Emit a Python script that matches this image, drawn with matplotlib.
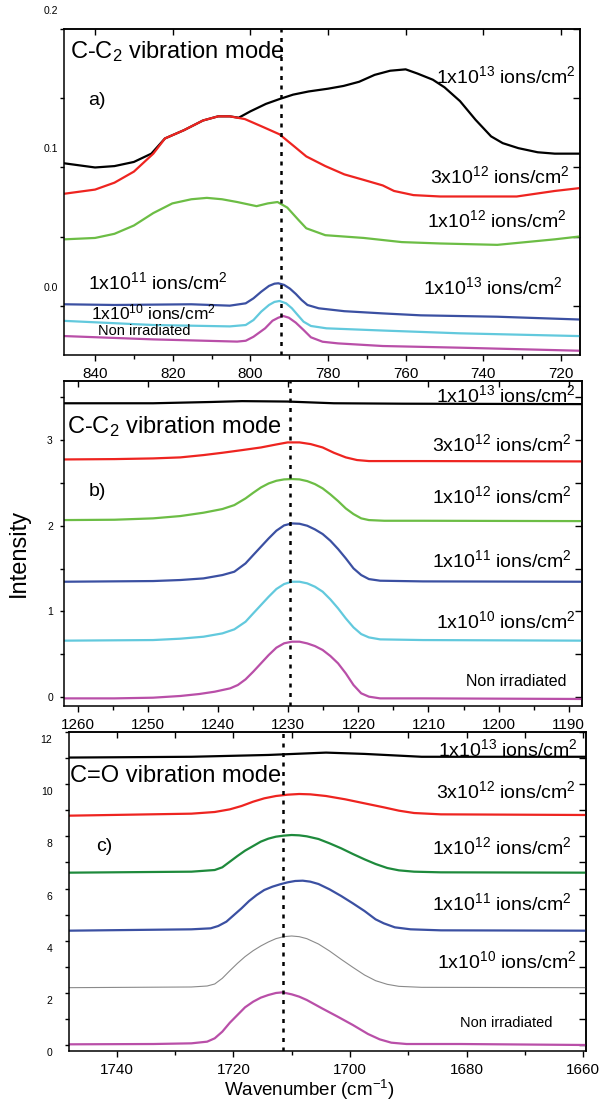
import matplotlib
matplotlib.use("Agg")
import matplotlib.pyplot as plt
from matplotlib.ticker import MultipleLocator, FixedLocator
from matplotlib.transforms import ScaledTranslation

plt.rcParams['font.family'] = ['Liberation Sans', 'DejaVu Sans']
plt.rcParams['mathtext.fontset'] = 'custom'
plt.rcParams['mathtext.rm'] = 'Liberation Sans'
plt.rcParams['mathtext.it'] = 'Liberation Sans:italic'
plt.rcParams['mathtext.default'] = 'regular'

# ---- panel a) C-C2 around 790 cm-1 ----
a_black_wn = [847.9, 840, 835, 830, 825.5, 822, 817.1, 812.2, 808.3, 805.3, 803, 800, 796,
              792.5, 789, 785, 780, 776, 772, 768, 764, 760, 757, 753, 750, 746, 742, 738,
              735, 731, 726, 721.6, 715.4]
a_black = [0.103, 0.100, 0.101, 0.104, 0.110, 0.121, 0.127, 0.134, 0.137, 0.137, 0.136, 0.1406,
           0.146, 0.1495, 0.1527, 0.155, 0.157, 0.159, 0.162, 0.167, 0.170, 0.171, 0.168, 0.1635,
           0.158, 0.148, 0.1345, 0.1225, 0.1176, 0.114, 0.111, 0.110, 0.110]
a_red_wn = [847.9, 840, 835, 830, 825, 822, 817.1, 812.2, 808.3, 805.3, 801.4, 796.5, 792.5,
            788.6, 785.6, 780.7, 775.8, 770.8, 765.9, 763, 758, 751.1, 741.3, 731.4, 721.6, 715.4]
a_red = [0.081, 0.084, 0.089, 0.097, 0.110, 0.121, 0.127, 0.134, 0.137, 0.137, 0.135, 0.129,
         0.124, 0.115, 0.108, 0.101, 0.095, 0.091, 0.087, 0.083, 0.080, 0.079, 0.079, 0.079,
         0.083, 0.085]
a_green_wn = [847.9, 840, 835, 830, 825, 820.1, 815.2, 811.2, 807.3, 803.4, 798.4, 795.5, 793,
              790.5, 787.6, 785.6, 780.7, 770.8, 761, 751.1, 736.4, 721.6, 715.4]
a_green = [0.048, 0.049, 0.052, 0.058, 0.067, 0.074, 0.077, 0.078, 0.077, 0.075, 0.072, 0.074,
           0.075, 0.071, 0.062, 0.056, 0.051, 0.049, 0.046, 0.045, 0.044, 0.048, 0.050]
a_blue_wn = [847.9, 835, 815.2, 805.3, 801.2, 799.2, 797.2, 795.2, 793.8, 792.8, 791.3, 789.8,
             788.3, 786.8, 785.3, 782.4, 775.8, 765.9, 756.1, 736.4, 715.4]
a_blue = [0.001, 0.0005, 0.001, 0.000, 0.0017, 0.0053, 0.0101, 0.0143, 0.0159, 0.0162, 0.0150,
          0.0123, 0.0085, 0.0041, 0.0005, -0.0019, -0.004, -0.0056, -0.007, -0.008, -0.010]
a_cyan_wn = [847.9, 825, 805.3, 801.2, 799.2, 797.2, 795.2, 793.8, 792.5, 790.8, 789.3, 787.8,
             786.3, 784.4, 780.4, 765.9, 746.2, 715.4]
a_cyan = [-0.011, -0.014, -0.015, -0.014, -0.0104, -0.0043, 0.0005, 0.0027, 0.0034, 0.0017,
          -0.0019, -0.0068, -0.0116, -0.0147, -0.0164, -0.018, -0.020, -0.022]
a_mag_wn = [847.9, 825, 803.4, 801.2, 799.2, 796.2, 794.3, 792.8, 791.5, 790.1, 788.3, 786.3,
            784.4, 781.4, 777.4, 765.9, 746.2, 715.4]
a_mag = [-0.022, -0.0244, -0.026, -0.0254, -0.0225, -0.0164, -0.0109, -0.0087, -0.0075, -0.0087,
         -0.0123, -0.0176, -0.0229, -0.0261, -0.0273, -0.0292, -0.0304, -0.0326]

# ---- panel b) C-C2 around 1230 cm-1 ----
b_black_wn = [1262.0, 1249.3, 1241.0, 1236.6, 1230.1, 1223.5, 1213.6, 1188.0]
b_black = [3.43, 3.43, 3.445, 3.455, 3.45, 3.43, 3.425, 3.42]
b_red_wn = [1262.0, 1254.8, 1249.3, 1245.4, 1242.1, 1239.4, 1236.6, 1233.9, 1231.7, 1230.1,
            1228.4, 1226.8, 1225.1, 1223.5, 1221.8, 1220.2, 1218.5, 1210.8, 1188.0]
b_red = [2.774, 2.778, 2.786, 2.798, 2.825, 2.852, 2.883, 2.914, 2.949, 2.973, 2.973, 2.953,
         2.914, 2.852, 2.798, 2.767, 2.755, 2.755, 2.751]
b_green_wn = [1262.0, 1254.8, 1249.3, 1245.4, 1242.1, 1239.4, 1237.7, 1236.1, 1235.0, 1233.9,
              1232.8, 1231.7, 1230.6, 1229.5, 1228.4, 1227.3, 1226.2, 1225.1, 1224.0, 1222.9,
              1221.8, 1220.7, 1219.6, 1218.5, 1216.3, 1210.8, 1188.0]
b_green = [2.066, 2.070, 2.086, 2.113, 2.152, 2.195, 2.241, 2.319, 2.385, 2.447, 2.494, 2.525,
           2.541, 2.545, 2.541, 2.521, 2.486, 2.436, 2.366, 2.288, 2.202, 2.136, 2.086, 2.066,
           2.058, 2.058, 2.054]
b_blue_wn = [1262.0, 1249.3, 1245.4, 1242.1, 1239.4, 1237.7, 1236.1, 1235.0, 1233.9, 1232.8,
             1231.7, 1230.6, 1229.5, 1228.4, 1227.3, 1226.2, 1225.1, 1224.0, 1222.9, 1221.8,
             1220.7, 1219.6, 1218.5, 1216.9, 1210.8, 1188.0]
b_blue = [1.346, 1.354, 1.366, 1.385, 1.424, 1.463, 1.560, 1.658, 1.755, 1.852, 1.942, 2.004,
          2.027, 2.023, 2.000, 1.957, 1.903, 1.825, 1.728, 1.619, 1.502, 1.424, 1.377, 1.358,
          1.350, 1.346]
b_cyan_wn = [1262.0, 1249.3, 1245.4, 1242.1, 1239.4, 1237.7, 1236.1, 1235.0, 1233.9, 1232.8,
             1231.7, 1230.6, 1229.5, 1228.4, 1227.3, 1226.2, 1225.1, 1224.0, 1222.9, 1221.8,
             1220.7, 1219.6, 1218.5, 1216.9, 1210.8, 1188.0]
b_cyan = [0.658, 0.665, 0.681, 0.704, 0.743, 0.790, 0.879, 0.977, 1.074, 1.171, 1.261, 1.319,
          1.346, 1.346, 1.327, 1.288, 1.230, 1.140, 1.035, 0.918, 0.813, 0.735, 0.696, 0.673,
          0.665, 0.658]
b_mag_wn = [1262.0, 1254.8, 1249.3, 1245.4, 1242.7, 1240.5, 1238.3, 1237.2, 1236.1, 1235.0,
            1233.9, 1232.8, 1231.7, 1230.6, 1229.5, 1228.4, 1227.3, 1226.2, 1225.1, 1224.0,
            1222.9, 1221.8, 1220.7, 1219.6, 1218.5, 1216.9, 1210.8, 1188.0]
b_mag = [-0.016, -0.016, -0.008, 0.012, 0.035, 0.062, 0.101, 0.140, 0.206, 0.296, 0.393, 0.490,
         0.576, 0.627, 0.646, 0.646, 0.626, 0.595, 0.549, 0.479, 0.393, 0.276, 0.140, 0.043,
         0.004, -0.016, -0.016, -0.023]

# ---- panel c) C=O around 1710 cm-1 ----
c_black_wn = [1748.2, 1727.2, 1714.0, 1707.4, 1704.1, 1697.5, 1687.7, 1659.5]
c_black = [11.02, 11.05, 11.12, 11.18, 11.21, 11.16, 11.05, 11.05]
c_red_wn = [1748.2, 1727.2, 1723.2, 1720.6, 1718.6, 1716.6, 1714.7, 1712.7, 1710.7, 1708.7,
            1706.8, 1704.1, 1700.8, 1697.5, 1694.2, 1691.6, 1689.0, 1684.4, 1659.5]
c_red = [8.792, 8.869, 8.933, 9.035, 9.163, 9.329, 9.457, 9.546, 9.597, 9.623, 9.610, 9.546,
         9.419, 9.265, 9.112, 8.984, 8.894, 8.843, 8.818]
c_green_wn = [1748.2, 1727.2, 1723.2, 1721.9, 1720.6, 1719.3, 1718.0, 1716.6, 1715.3, 1714.0,
              1712.7, 1711.4, 1710.0, 1708.7, 1707.4, 1705.4, 1703.5, 1701.5, 1699.5, 1697.5,
              1695.6, 1693.6, 1691.6, 1689.0, 1684.4, 1659.5]
c_green = [6.607, 6.645, 6.709, 6.812, 7.029, 7.246, 7.450, 7.629, 7.796, 7.911, 7.987, 8.026,
           8.051, 8.038, 8.000, 7.898, 7.732, 7.540, 7.323, 7.118, 6.939, 6.786, 6.696, 6.645,
           6.620, 6.607]
c_blue_wn = [1748.2, 1727.2, 1723.9, 1722.6, 1721.2, 1719.9, 1718.6, 1717.3, 1716.0, 1714.7,
             1713.3, 1712.0, 1710.7, 1709.4, 1708.1, 1706.8, 1705.4, 1703.5, 1701.5, 1699.5,
             1697.5, 1695.6, 1694.2, 1692.3, 1689.6, 1684.4, 1659.5]
c_blue = [4.383, 4.435, 4.473, 4.562, 4.728, 4.984, 5.240, 5.521, 5.751, 5.942, 6.070, 6.160,
          6.236, 6.288, 6.300, 6.262, 6.173, 5.968, 5.712, 5.431, 5.137, 4.818, 4.665, 4.511,
          4.435, 4.396, 4.383]
c_gray_wn = [1748.2, 1727.2, 1724.5, 1723.2, 1721.9, 1720.6, 1719.3, 1718.0, 1716.6, 1715.3,
             1714.0, 1712.7, 1711.4, 1710.0, 1708.7, 1707.4, 1705.4, 1703.5, 1701.5, 1699.5,
             1697.5, 1695.6, 1693.6, 1691.6, 1687.7, 1659.5]
c_gray = [2.198, 2.224, 2.262, 2.339, 2.556, 2.850, 3.131, 3.387, 3.617, 3.796, 3.949, 4.077,
          4.153, 4.179, 4.153, 4.077, 3.872, 3.604, 3.284, 2.978, 2.684, 2.466, 2.326, 2.249,
          2.211, 2.198]
c_mag_wn = [1748.2, 1733.7, 1727.2, 1724.5, 1723.2, 1721.9, 1720.6, 1719.3, 1718.0, 1716.6,
            1715.3, 1714.0, 1712.7, 1711.6, 1710.0, 1708.7, 1707.4, 1704.8, 1702.1, 1699.5,
            1696.9, 1694.9, 1692.9, 1690.3, 1681.1, 1659.5]
c_mag = [0.026, 0.038, 0.064, 0.128, 0.256, 0.511, 0.856, 1.150, 1.444, 1.661, 1.815, 1.917,
         1.994, 2.019, 1.943, 1.853, 1.725, 1.406, 1.086, 0.767, 0.422, 0.217, 0.089, 0.038,
         0.038, 0.0]

W, H = 602, 1103
fig = plt.figure(figsize=(W / 100, H / 100), dpi=100)


def ions(m, e):
    return m + 'x10$^{' + e + '}$ ions/cm$^{2}$'


def put(x, y, s, size=14, ha='left'):
    # x, y in pixels from the top-left corner, y is the baseline
    fig.text(x / W, 1 - y / H, s, fontsize=size, ha=ha, va='baseline')


def frame(ax, xmaj, xmin, ymaj, ymin, ypad, top_minor=False):
    ax.xaxis.set_major_locator(MultipleLocator(xmaj))
    ax.xaxis.set_minor_locator(MultipleLocator(xmin))
    ax.yaxis.set_major_locator(FixedLocator(ymaj))
    ax.yaxis.set_minor_locator(FixedLocator(ymin))
    ax.tick_params(axis='x', which='major', direction='out', length=4.3, width=1, pad=4.5,
                   labelsize=11)
    ax.tick_params(axis='x', which='minor', direction='out', length=3, width=1)
    ax.tick_params(axis='y', which='both', direction='out', length=3, width=1, pad=ypad,
                   labelsize=7.5)
    for s in ax.spines.values():
        s.set_linewidth(1.1)
    top = ax.secondary_xaxis('top')
    top.xaxis.set_major_locator(MultipleLocator(xmaj))
    if top_minor:
        top.xaxis.set_minor_locator(MultipleLocator(xmin))
        top.tick_params(which='minor', direction='in', length=4.3, width=1)
    top.tick_params(which='major', direction='in', length=4.3, width=1, labeltop=False)
    top.spines['top'].set_linewidth(1.1)
    right = ax.secondary_yaxis('right')
    right.yaxis.set_major_locator(FixedLocator(ymaj))
    right.yaxis.set_minor_locator(FixedLocator(ymin))
    right.tick_params(which='both', direction='in', length=5, width=1, labelright=False)
    right.spines['right'].set_linewidth(1.1)


def shift_ylabels(ax, dy_px):
    off = ScaledTranslation(0, dy_px / 100, fig.dpi_scale_trans)
    for lab in ax.get_yticklabels():
        lab.set_transform(lab.get_transform() + off)


lw = 1.6
red, lgreen, dgreen = '#ee2420', '#6cbd45', '#1e8a3c'
blue, cyan, mag, gray = '#3b50a2', '#62c9dd', '#b94fa8', '#8a8a8a'
dots = (0, (1.6, 2.2))

# panel a
axa = fig.add_axes([64 / W, 1 - 355 / H, 516 / W, 326 / H])
axa.plot(a_black_wn, a_black, color='k', lw=lw)
axa.plot(a_red_wn, a_red, color=red, lw=lw)
axa.plot(a_green_wn, a_green, color=lgreen, lw=lw)
axa.plot(a_blue_wn, a_blue, color=blue, lw=lw)
axa.plot(a_cyan_wn, a_cyan, color=cyan, lw=lw)
axa.plot(a_mag_wn, a_mag, color=mag, lw=lw)
axa.axvline(792.2, color='k', ls=dots, lw=1.8)
axa.set_xlim(848, 715.1)
axa.set_ylim(-0.0357, 0.2002)
frame(axa, 20, 10, [0.0, 0.1, 0.2], [0.05, 0.15], 1)
axa.set_yticklabels(['0.0', '0.1', '0.2'])
shift_ylabels(axa, 19)

# panel b
axb = fig.add_axes([64 / W, 1 - 706 / H, 518 / W, 325 / H])
axb.plot(b_black_wn, b_black, color='k', lw=lw)
axb.plot(b_red_wn, b_red, color=red, lw=lw)
axb.plot(b_green_wn, b_green, color=lgreen, lw=lw)
axb.plot(b_blue_wn, b_blue, color=blue, lw=lw)
axb.plot(b_cyan_wn, b_cyan, color=cyan, lw=lw)
axb.plot(b_mag_wn, b_mag, color=mag, lw=lw)
axb.axvline(1229.8, color='k', ls=dots, lw=1.8)
axb.set_xlim(1262, 1188.1)
axb.set_ylim(-0.105, 3.69)
frame(axb, 10, 5, [0, 1, 2, 3], [0.5, 1.5, 2.5, 3.5], 5)

# panel c
axc = fig.add_axes([69 / W, 1 - 1051 / H, 517 / W, 319 / H])
axc.plot(c_black_wn, c_black, color='k', lw=lw)
axc.plot(c_red_wn, c_red, color=red, lw=lw)
axc.plot(c_green_wn, c_green, color=dgreen, lw=lw)
axc.plot(c_blue_wn, c_blue, color=blue, lw=lw)
axc.plot(c_gray_wn, c_gray, color=gray, lw=0.8)
axc.plot(c_mag_wn, c_mag, color=mag, lw=lw)
axc.axvline(1711.5, color='k', ls=dots, lw=1.8)
axc.set_xlim(1748.2, 1659.5)
axc.set_ylim(-0.23, 12.0)
frame(axc, 20, 10, [0, 2, 4, 6, 8, 10, 12], [1, 3, 5, 7, 9, 11], 9, top_minor=True)
shift_ylabels(axc, -7)

# annotations panel a
put(70, 58, 'C-C$_{2}$ vibration mode', 17)
put(88, 105, 'a)', 14)
put(576, 83, ions('1', '13'), 14, 'right')
put(570, 183, ions('3', '12'), 14, 'right')
put(567, 227, ions('1', '12'), 14, 'right')
put(563, 294, ions('1', '13'), 14, 'right')
put(88, 289, ions('1', '11'), 14)
put(91, 319, ions('1', '10'), 12.5)
put(98, 335, 'Non irradiated', 10.5)

# annotations panel b
put(67, 433, 'C-C$_{2}$ vibration mode', 17)
put(89, 496, 'b)', 14)
put(576, 402, ions('1', '13'), 14, 'right')
put(572, 451, ions('3', '12'), 14, 'right')
put(572, 503, ions('1', '12'), 14, 'right')
put(572, 567, ions('1', '11'), 14, 'right')
put(576, 628, ions('1', '10'), 14, 'right')
put(566, 686, 'Non irradiated', 11.5, 'right')

# annotations panel c
put(70, 782, 'C=O vibration mode', 17)
put(96, 851, 'c)', 14)
put(578, 756, ions('1', '13'), 14, 'right')
put(576, 798, ions('3', '12'), 14, 'right')
put(572, 854, ions('1', '12'), 14, 'right')
put(572, 910, ions('1', '11'), 14, 'right')
put(577, 968, ions('1', '10'), 14, 'right')
put(552, 1027, 'Non irradiated', 10.5, 'right')

fig.text(19 / W, 1 - 553 / H, 'Intensity', fontsize=17, rotation=90, ha='center', va='center')
fig.text(309 / W, 1 - 1096 / H, 'Wavenumber (cm$^{-1}$)', fontsize=13.5, ha='center',
         va='baseline')

fig.savefig('out.png', dpi=100)
